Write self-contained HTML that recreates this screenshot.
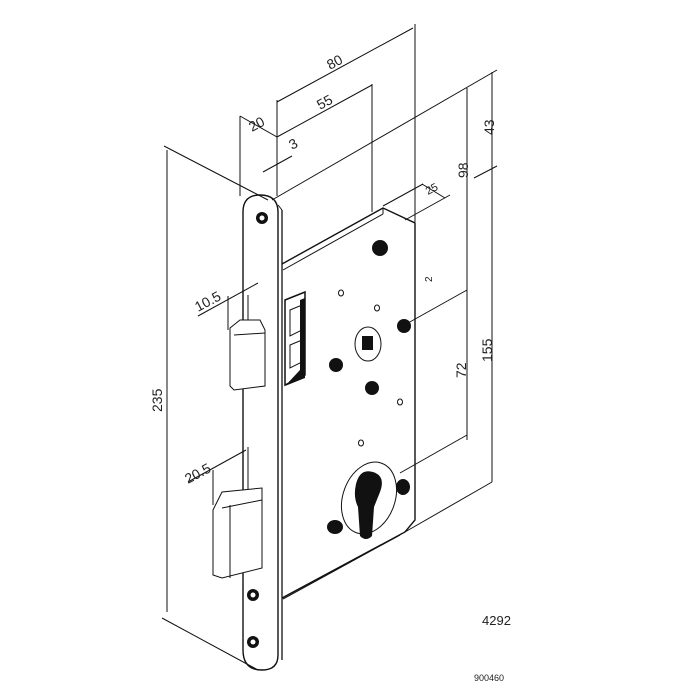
<!DOCTYPE html>
<html><head><meta charset="utf-8"><style>
html,body{margin:0;padding:0;background:#fff;width:700px;height:700px;overflow:hidden}
text{font-family:"Liberation Sans",sans-serif;fill:#222}
</style></head><body>
<svg width="700" height="700" viewBox="0 0 700 700" xmlns="http://www.w3.org/2000/svg">
<g fill="none" stroke="#111" stroke-width="1">
<line x1="167" y1="150" x2="167" y2="612"/>
<line x1="164" y1="146" x2="268" y2="200"/>
<line x1="162" y1="618" x2="258" y2="670"/>
<line x1="240" y1="116" x2="240" y2="196"/>
<line x1="277" y1="100" x2="277" y2="196"/>
<line x1="240" y1="116" x2="277" y2="137"/>
<line x1="277" y1="102" x2="413" y2="28"/>
<line x1="415" y1="24" x2="415" y2="222"/>
<line x1="277" y1="137" x2="372" y2="85"/>
<line x1="372" y1="84" x2="372" y2="212"/>
<line x1="263" y1="172" x2="292" y2="156"/>
<line x1="272" y1="200" x2="497" y2="70"/>
<line x1="467" y1="88" x2="467" y2="440"/>
<line x1="492" y1="72" x2="492" y2="482"/>
<line x1="474" y1="178" x2="497" y2="166"/>
<line x1="492" y1="482" x2="405" y2="532"/>
<line x1="467" y1="435" x2="400" y2="473"/>
<line x1="467" y1="290" x2="408" y2="323"/>
<line x1="383" y1="206" x2="423" y2="184"/>
<line x1="422" y1="184" x2="445" y2="198"/>
<line x1="405" y1="220" x2="450" y2="195"/>
<line x1="198" y1="316" x2="258" y2="283"/>
<line x1="228" y1="296" x2="228" y2="330"/>
<line x1="248" y1="295" x2="248" y2="322"/>
<line x1="188" y1="482" x2="246" y2="450"/>
<line x1="213" y1="470" x2="213" y2="505"/>
<line x1="248" y1="447" x2="248" y2="490"/>
<path d="M282 264 L383 208 L415 223 L415 520 L405 532 L282 598" stroke-width="1.4"/>
<line x1="283" y1="270" x2="383" y2="214"/>
<line x1="383" y1="208" x2="383" y2="214"/>
<line x1="283" y1="599" x2="400" y2="535"/>
<path d="M243 610 L243 212 Q243 195 260 195 Q278 195 278 212 L278 655 Q278 670 262 670 Q243 670 243 650 Z" stroke-width="1.4"/>
<line x1="282" y1="210" x2="282" y2="660" stroke-width="1.3"/>
<line x1="278" y1="205" x2="282" y2="210"/>
<path d="M230 328 L240 320 L260 320 L265 330 L265 386 L234 390 L230 386 Z" fill="#fff"/>
<line x1="234" y1="335" x2="265" y2="333"/>
<path d="M213 510 L222 492 L262 488 L262 568 L222 578 L213 575 Z" fill="#fff"/>
<line x1="222" y1="508" x2="262" y2="500"/>
<line x1="230" y1="505" x2="230" y2="578"/>
<path d="M285 300 L305 292 L305 375 L285 385 Z" stroke-width="1.5"/>
<path d="M290 310 L302 305 L302 330 L290 336 Z"/>
<path d="M290 345 L302 340 L302 362 L290 368 Z"/>
</g>
<g fill="#111">
<circle cx="380" cy="248" r="8"/>
<circle cx="404" cy="326" r="7"/>
<circle cx="336" cy="365" r="7"/>
<circle cx="372" cy="388" r="7"/>
<ellipse cx="403" cy="487" rx="7" ry="8"/>
<ellipse cx="335" cy="527" rx="8" ry="7"/>
<circle cx="262" cy="218" r="6"/>
<circle cx="253" cy="595" r="6"/>
<circle cx="253" cy="642" r="6"/>
<path d="M300 300 L305 298 L305 378 L285 386 L300 370Z"/>
</g>
<g fill="#fff" stroke="#111">
<circle cx="262" cy="218" r="3"/>
<circle cx="253" cy="595" r="3"/>
<circle cx="253" cy="642" r="3"/>
<ellipse cx="341" cy="293" rx="2.5" ry="3"/>
<ellipse cx="377" cy="308" rx="2.5" ry="3"/>
<ellipse cx="400" cy="402" rx="2.5" ry="3"/>
<ellipse cx="361" cy="443" rx="2.5" ry="3"/>
<ellipse cx="368" cy="344" rx="13" ry="17"/>
<ellipse cx="369" cy="498" rx="26" ry="37" transform="rotate(20 369 498)"/>
</g>
<rect x="362" y="336" width="11" height="14" fill="#111"/>
<path d="M356 484 Q360 468 373 472 Q386 476 380 492 Q376 502 374 507 L372 536 Q366 542 360 536 L358 507 Q353 497 356 484 Z" fill="#111"/>
<g font-size="14">
<text transform="translate(330,70) rotate(-28)">80</text>
<text transform="translate(320,110) rotate(-28)">55</text>
<text transform="translate(252,132) rotate(-28)">20</text>
<text transform="translate(292,150) rotate(-28)">3</text>
<text transform="translate(428,195) rotate(-28)" font-size="11">25</text>
<text transform="translate(468,178) rotate(-90)">98</text>
<text transform="translate(494,135) rotate(-90)">43</text>
<text transform="translate(466,378) rotate(-90)">72</text>
<text transform="translate(492,362) rotate(-90)">155</text>
<text transform="translate(162,412) rotate(-90)">235</text>
<text transform="translate(198,312) rotate(-28)">10.5</text>
<text transform="translate(188,484) rotate(-28)">20.5</text>
<text transform="translate(432,282) rotate(-90)" font-size="10">2</text>
<text x="482" y="625" font-size="13">4292</text>
<text x="474" y="681" font-size="9">900460</text>
</g>
</svg>
</body></html>
